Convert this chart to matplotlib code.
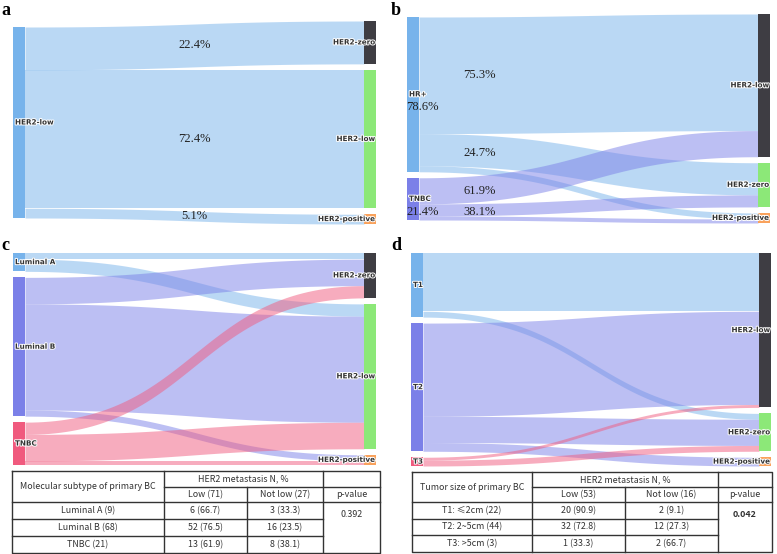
import matplotlib
matplotlib.use("Agg")
import matplotlib.pyplot as plt
import matplotlib.patheffects as pe
import numpy as np

# ---- data ----
# panel a: HER2-low primary -> metastasis status
a_src = ["HER2-low"]
a_tgt = ["HER2-zero", "HER2-low", "HER2-positive"]
a_flow = [[22, 71, 5]]
a_pct = ["22.4%", "72.4%", "5.1%"]

# panel b: HR status
b_src = ["HR+", "TNBC"]
b_src_pct = ["78.6%", "21.4%"]
b_tgt = ["HER2-low", "HER2-zero", "HER2-positive"]
b_flow = [[58, 16, 3], [13, 6, 2]]
b_pct = [["75.3%", "24.7%"], ["61.9%", "38.1%"]]

# panel c: molecular subtype
c_src = ["Luminal A", "Luminal B", "TNBC"]
c_tgt = ["HER2-zero", "HER2-low", "HER2-positive"]
c_flow = [[3, 6, 0], [13, 52, 3], [6, 13, 2]]

# panel d: tumor size
d_src = ["T1", "T2", "T3"]
d_tgt = ["HER2-low", "HER2-zero", "HER2-positive"]
d_flow = [[20, 2, 0], [32, 9, 3], [1, 2, 0]]

# tables
tc_title = "Molecular subtype of primary BC"
tc_heads = ["Low (71)", "Not low (27)"]
tc_rows = ["Luminal A (9)", "Luminal B (68)", "TNBC (21)"]
tc_low = ["6 (66.7)", "52 (76.5)", "13 (61.9)"]
tc_notlow = ["3 (33.3)", "16 (23.5)", "8 (38.1)"]
tc_p = "0.392"

td_title = "Tumor size of primary BC"
td_heads = ["Low (53)", "Not low (16)"]
td_rows = ["T1: ≤2cm (22)", "T2: 2~5cm (44)", "T3: >5cm (3)"]
td_low = ["20 (90.9)", "32 (72.8)", "1 (33.3)"]
td_notlow = ["2 (9.1)", "12 (27.3)", "2 (66.7)"]
td_p = "0.042"

# ---- style ----
SRC_COLORS = ["#77b3eb", "#7b80e8", "#f05a7e"]
TGT_COLORS = ["#3e3d43", "#8ce878", "#f9a25c"]
NODE_W = 12
GAP = 6
LABEL_FONT = dict(fontsize=5.2, fontweight="bold", color="#333333", family="DejaVu Sans",
                  path_effects=[pe.withStroke(linewidth=1.4, foreground="white")], zorder=5)
PCT_FONT = dict(fontsize=9, family="Liberation Serif", color="#222222", zorder=5)
TAB_FONT = dict(fontsize=6.4, family=["Noto Sans CJK SC", "DejaVu Sans"], color="#333333",
                ha="center", va="center")


def stack(values, top, bottom, k):
    used = sum(values) * k + (len(values) - 1) * GAP
    y = top + ((bottom - top) - used) / 2
    out = []
    for v in values:
        out.append((y, y + v * k))
        y += v * k + GAP
    return out


def sankey(ax, box, src, tgt, flow):
    x0, x1, top, bottom = box
    flow = np.array(flow, float)
    n = max(len(src), len(tgt))
    k = ((bottom - top) - (n - 1) * GAP) / flow.sum()
    s_pos = stack(flow.sum(1), top, bottom, k)
    t_pos = stack(flow.sum(0), top, bottom, k)
    xa, xb = x0 + NODE_W, x1 - NODE_W
    t = np.linspace(0, 1, 80)
    bx = (1 - t) ** 3 * xa + 3 * (1 - t) ** 2 * t * (xa + xb) / 2 + 3 * (1 - t) * t ** 2 * (xa + xb) / 2 + t ** 3 * xb
    h = 3 * (1 - t) * t ** 2 + t ** 3  # bezier weight toward target y

    t_off = [p[0] for p in t_pos]
    for i in range(len(src)):
        s_off = s_pos[i][0]
        for j in range(len(tgt)):
            v = flow[i, j] * k
            if v <= 0:
                continue
            y_top = s_off + (t_off[j] - s_off) * h
            ax.fill_between(bx, y_top, y_top + v, color=SRC_COLORS[i], alpha=0.5, lw=0, zorder=1)
            s_off += v
            t_off[j] += v

    for i, (ya, yb) in enumerate(s_pos):
        ax.add_patch(plt.Rectangle((x0, ya), NODE_W, yb - ya, color=SRC_COLORS[i], lw=0, zorder=3))
        ax.text(x0 + 2, (ya + yb) / 2, src[i], ha="left", va="center", **LABEL_FONT)
    for j, (ya, yb) in enumerate(t_pos):
        ax.add_patch(plt.Rectangle((x1 - NODE_W, ya), NODE_W, yb - ya, color=TGT_COLORS[j], lw=0, zorder=3))
        ax.text(x1 - 1, (ya + yb) / 2, tgt[j], ha="right", va="center", **LABEL_FONT)
    return s_pos, t_pos, k


def draw_table(ax, xs, ys, title, heads, rows, low, notlow, p, p_bold):
    lc = dict(color="#333333", lw=1.0, zorder=4)
    ax.plot([xs[0], xs[4], xs[4], xs[0], xs[0]], [ys[0], ys[0], ys[5], ys[5], ys[0]], **lc)
    ax.plot([xs[1], xs[4]], [ys[1], ys[1]], **lc)
    ax.plot([xs[0], xs[4]], [ys[2], ys[2]], **lc)
    for y in ys[3:5]:
        ax.plot([xs[0], xs[3]], [y, y], **lc)
    ax.plot([xs[1], xs[1]], [ys[0], ys[5]], **lc)
    ax.plot([xs[2], xs[2]], [ys[1], ys[5]], **lc)
    ax.plot([xs[3], xs[3]], [ys[0], ys[5]], **lc)

    cx = [(xs[c] + xs[c + 1]) / 2 for c in range(4)]
    ax.text(cx[0], (ys[0] + ys[2]) / 2, title, **TAB_FONT)
    ax.text((xs[1] + xs[3]) / 2, (ys[0] + ys[1]) / 2, "HER2 metastasis N, %", **TAB_FONT)
    hy = (ys[1] + ys[2]) / 2
    ax.text(cx[1], hy, heads[0], **TAB_FONT)
    ax.text(cx[2], hy, heads[1], **TAB_FONT)
    ax.text(cx[3], hy, "p-value", **TAB_FONT)
    for r in range(3):
        ry = (ys[2 + r] + ys[3 + r]) / 2
        ax.text(cx[0], ry, rows[r], **TAB_FONT)
        ax.text(cx[1], ry, low[r], **TAB_FONT)
        ax.text(cx[2], ry, notlow[r], **TAB_FONT)
    ax.text(cx[3], ys[2] + (ys[3] - ys[2]) * 0.75, p,
            fontweight="bold" if p_bold else "normal", **TAB_FONT)


fig = plt.figure(figsize=(7.77, 5.54), dpi=100)
ax = fig.add_axes([0, 0, 1, 1])
ax.set_xlim(0, 777)
ax.set_ylim(554, 0)
ax.axis("off")

# panel a
box = (13, 376, 21, 224)
s_pos, t_pos, k = sankey(ax, box, a_src, a_tgt, a_flow)
off = s_pos[0][0]
for j, lab in enumerate(a_pct):
    v = a_flow[0][j] * k
    ym = (off + v / 2 + (t_pos[j][0] + t_pos[j][1]) / 2) / 2
    ax.text((box[0] + box[1]) / 2, ym, lab, ha="center", va="center", **PCT_FONT)
    off += v

# panel b
box = (407, 770, 14, 223)
s_pos, t_pos, k = sankey(ax, box, b_src, b_tgt, b_flow)
for i, (ya, yb) in enumerate(s_pos):
    ax.text(box[0] - 1, (ya + yb) / 2 + 13, b_src_pct[i], ha="left", va="center", **PCT_FONT)
    v_low = b_flow[i][0] * k
    ax.text(box[0] + NODE_W + 44, ya + v_low / 2, b_pct[i][0], ha="left", va="center", **PCT_FONT)
    ax.text(box[0] + NODE_W + 44, (ya + v_low + yb) / 2, b_pct[i][1], ha="left", va="center", **PCT_FONT)

# panel c, d
sankey(ax, (13, 376, 253, 465), c_src, c_tgt, c_flow)
sankey(ax, (411, 771, 253, 466), d_src, d_tgt, d_flow)

# tables
draw_table(ax, [12, 164, 247, 323, 380], [471, 487, 502, 519, 536, 553],
           tc_title, tc_heads, tc_rows, tc_low, tc_notlow, tc_p, False)
draw_table(ax, [412, 532, 625, 718, 772], [472, 487, 502, 519, 535, 552],
           td_title, td_heads, td_rows, td_low, td_notlow, td_p, True)

# panel letters
for lab, x, y in [("a", 1, 15), ("b", 391, 15), ("c", 1, 250), ("d", 391, 250)]:
    ax.text(x, y, lab, fontsize=13, fontweight="bold", family="Liberation Serif",
            ha="left", va="baseline")

fig.savefig("out.png", dpi=100, facecolor="white")
